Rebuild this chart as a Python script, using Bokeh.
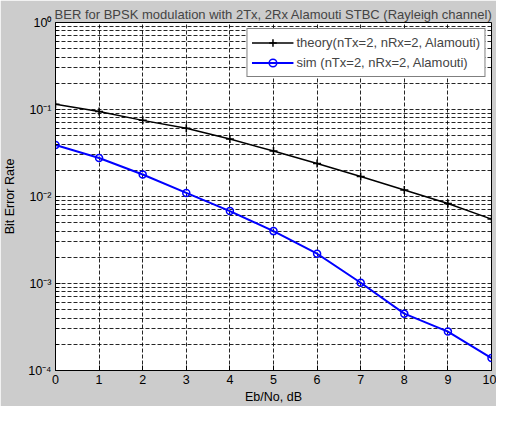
from bokeh.plotting import figure
from bokeh.models import Range1d, FixedTicker, CustomJSTickFormatter
from bokeh.embed import file_html
from bokeh.resources import INLINE

# ---- data ----
ebno_db = [0, 1, 2, 3, 4, 5, 6, 7, 8, 9, 10]
ber_theory = [0.115, 0.095, 0.075, 0.0608, 0.0457, 0.0333, 0.024, 0.0170, 0.0119, 0.0083, 0.0055]
ber_sim = [0.039, 0.0277, 0.0179, 0.0110, 0.0068, 0.0040, 0.0022, 0.00102, 0.00045, 0.00028, 0.000139]

x_ticks = [0, 1, 2, 3, 4, 5, 6, 7, 8, 9, 10]
y_major = [1e-4, 1e-3, 1e-2, 1e-1, 1.0]
y_mantissas = [2, 3, 4, 5, 6, 7, 8, 9]

title_text = "BER for BPSK modulation with 2Tx, 2Rx Alamouti STBC (Rayleigh channel)"
x_label = "Eb/No, dB"
y_label = "Bit Error Rate"
label_theory = "theory(nTx=2, nRx=2, Alamouti)"
label_sim = "sim (nTx=2, nRx=2, Alamouti)"

FONT = "Liberation Sans"
BG = "#cccccc"

p = figure(width=496, height=406, output_backend="svg", toolbar_location=None,
           y_axis_type="log",
           x_range=Range1d(0, 10), y_range=Range1d(1e-4, 1.0),
           min_border_left=50, min_border_right=5, min_border_top=22, min_border_bottom=36)

p.border_fill_color = BG
p.background_fill_color = "white"
p.outline_line_color = "black"
p.outline_line_width = 1

p.title.text = title_text
p.title.text_font = FONT
p.title.text_font_size = "13px"
p.title.text_font_style = "normal"
p.title.align = "center"
p.title.offset = 0
p.title.standoff = 2

minor = [m * d for d in y_major[:-1] for m in y_mantissas]
p.yaxis.ticker = FixedTicker(ticks=y_major, minor_ticks=minor)
p.xaxis.ticker = FixedTicker(ticks=x_ticks)

p.yaxis.formatter = CustomJSTickFormatter(code="""
const e = Math.round(Math.log10(tick));
const sup = {'0':'\u2070','1':'\u00b9','2':'\u00b2','3':'\u00b3','4':'\u2074',
             '5':'\u2075','6':'\u2076','7':'\u2077','8':'\u2078','9':'\u2079','-':'\u207b'};
return '10' + String(e).split('').map(c => sup[c]).join('');
""")

for ax in (p.xaxis[0], p.yaxis[0]):
    ax.axis_line_color = "black"
    ax.major_tick_in = 5
    ax.major_tick_out = 0
    ax.minor_tick_in = 3
    ax.minor_tick_out = 0
    ax.major_tick_line_color = "black"
    ax.minor_tick_line_color = "black"
    ax.major_label_text_font = FONT
    ax.major_label_text_font_size = "12.5px"
    ax.major_label_text_color = "black"
    ax.axis_label_text_font = FONT
    ax.axis_label_text_font_size = "12.5px"
    ax.axis_label_text_font_style = "normal"
    ax.axis_label_text_color = "black"

p.xaxis.axis_label = x_label
p.yaxis.axis_label = y_label
p.xaxis.major_label_standoff = 4
p.xaxis.axis_label_standoff = 3
p.yaxis.major_label_standoff = 4
p.yaxis.axis_label_standoff = 8

for g in (p.xgrid[0], p.ygrid[0]):
    g.grid_line_color = "black"
    g.grid_line_dash = "4 2"
    g.grid_line_width = 1
    g.grid_line_alpha = 0.85
p.ygrid[0].minor_grid_line_color = "black"
p.ygrid[0].minor_grid_line_dash = "4 2"
p.ygrid[0].minor_grid_line_alpha = 0.85

p.line(ebno_db, ber_theory, line_color="black", line_width=1.5, legend_label=label_theory)
p.scatter(ebno_db, ber_theory, marker="cross", size=8, line_color="black", line_width=1.5,
          legend_label=label_theory)
p.line(ebno_db, ber_sim, line_color="#0000ff", line_width=2, legend_label=label_sim)
p.scatter(ebno_db, ber_sim, marker="circle", size=7, line_color="#0000ff", fill_color=None,
          line_width=1.5, legend_label=label_sim)

lg = p.legend[0]
lg.location = "top_right"
lg.margin = 6
lg.padding = 4
lg.spacing = 1
lg.glyph_width = 42
lg.glyph_height = 19
lg.label_height = 19
lg.label_standoff = 3
lg.label_text_font = FONT
lg.label_text_font_size = "13px"
lg.border_line_color = "black"
lg.border_line_width = 1
lg.background_fill_color = "white"
lg.background_fill_alpha = 1.0

open("out.html", "w").write(file_html(p, INLINE))
